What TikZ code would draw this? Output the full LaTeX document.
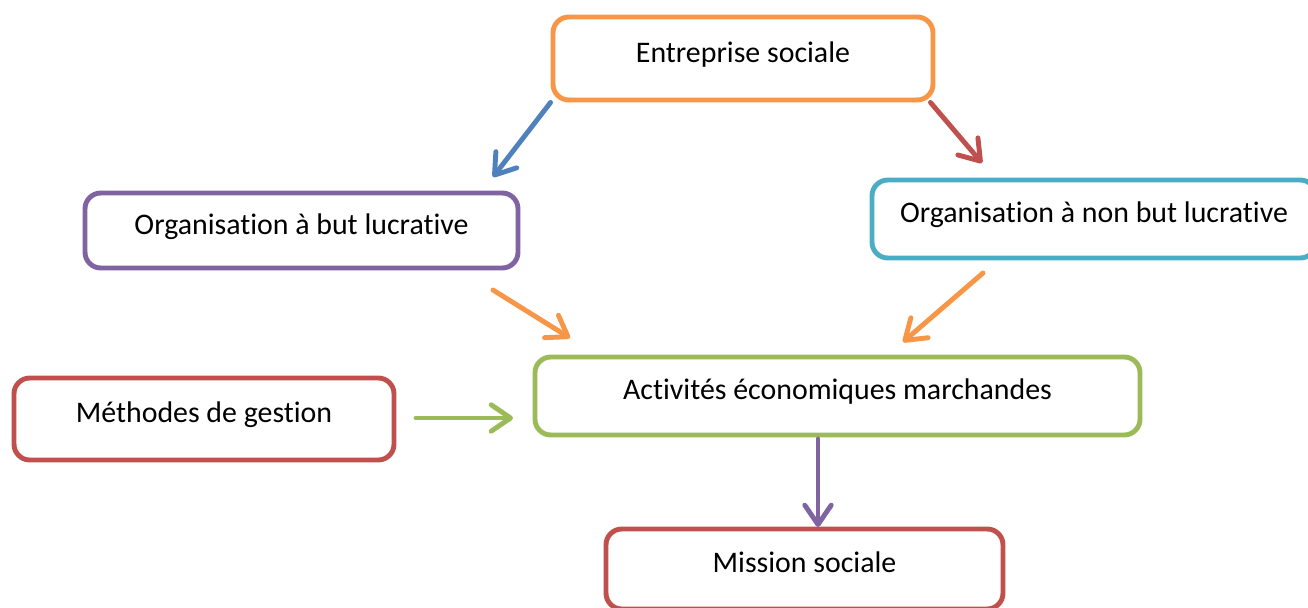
\documentclass[tikz,border=0pt]{standalone}
\usepackage{fontspec}
\setmainfont{Carlito}[Ligatures=NoCommon]
\usetikzlibrary{arrows.meta}

\definecolor{orng}{HTML}{F79646}
\definecolor{purp}{HTML}{8064A2}
\definecolor{cyn}{HTML}{4BACC6}
\definecolor{grn}{HTML}{9BBB59}
\definecolor{rd}{HTML}{C0504D}
\definecolor{blu}{HTML}{4F81BD}

\tikzset{
  box/.style={draw, line width=2.8pt, rounded corners=9pt, fill=white, text height=11pt, text depth=7pt, font=\fontsize{17}{19}\selectfont},
  arr/.style={line width=2.8pt, line cap=round, -{Straight Barb[length=11pt, width=15pt, round]}}
}

\begin{document}
\begin{tikzpicture}[x=0.02cm, y=-0.02cm]
\useasboundingbox (0,0) rectangle (1308,608);
\clip (0,0) rectangle (1308,608);
% boxes
\node[box, draw=orng, minimum width=380*0.02cm, minimum height=83*0.02cm] (ent) at (743,58.5) {Entreprise sociale};
\node[box, draw=purp, minimum width=433*0.02cm, minimum height=75*0.02cm] (lucr) at (301.5,230.5) {Organisation à but lucrative};
\node[box, draw=cyn, minimum width=444*0.02cm, minimum height=78*0.02cm] (nonlucr) at (1094,219) {Organisation à non but lucrative};
\node[box, draw=grn, minimum width=605*0.02cm, minimum height=78*0.02cm] (act) at (837.5,396) {Activités économiques marchandes};
\node[box, draw=rd, minimum width=380*0.02cm, minimum height=82*0.02cm] (meth) at (204,419) {Méthodes de gestion};
\node[box, draw=rd, minimum width=397*0.02cm, minimum height=80*0.02cm] (miss) at (804.5,569) {Mission sociale};
% arrow ends
\coordinate (e1) at (493,177);
\coordinate (e2) at (982,163);
\coordinate (s3) at (493,290);
\coordinate (e3) at (570,338);
\coordinate (s4) at (983,273);
\coordinate (e4) at (903,342);
\coordinate (s5) at (416,418);
\coordinate (e5) at (513,418);
\coordinate (s6) at (818,439);
\coordinate (e6) at (818,527);
% arrows
\draw[arr, blu] (ent.south west) -- (e1);
\draw[arr, rd] ([xshift=-5*0.02cm]ent.south east) -- (e2);
\draw[arr, orng] (s3) -- (e3);
\draw[arr, orng] (s4) -- (e4);
\draw[arr, grn] (s5) -- (e5);
\draw[arr, purp] (s6) -- (e6);
\end{tikzpicture}
\end{document}
